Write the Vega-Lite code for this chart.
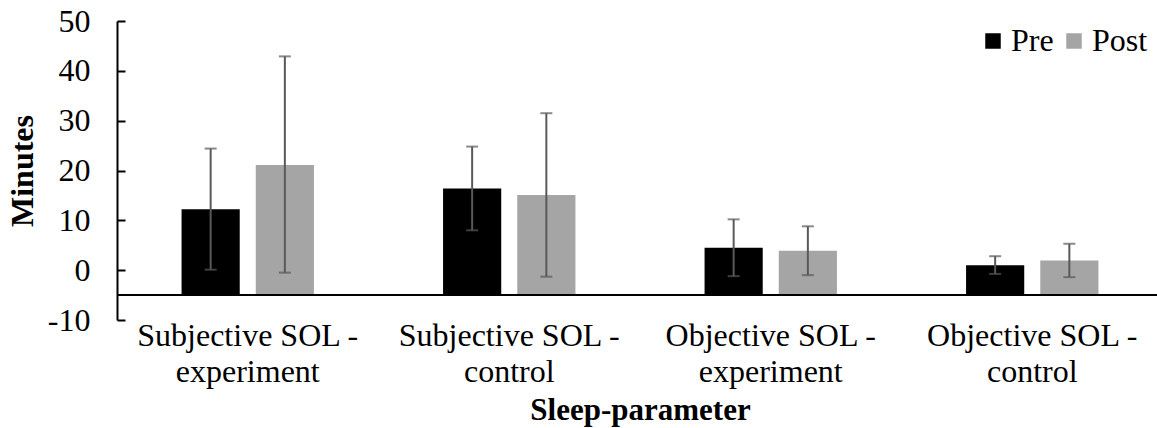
{
  "$schema": "https://vega.github.io/schema/vega-lite/v6.json",
  "autosize": "none",
  "width": 1040,
  "height": 299,
  "padding": {"left": 117, "top": 21, "right": 0, "bottom": 108},
  "background": "white",
  "config": {
    "view": {"stroke": null},
    "font": "Liberation Serif"
  },
  "data": {
    "values": [
      {"param": "Subjective SOL - experiment", "time": "Pre", "mean": 12.2, "lo": 0.1, "hi": 24.4},
      {"param": "Subjective SOL - experiment", "time": "Post", "mean": 21.1, "lo": -0.5, "hi": 42.9},
      {"param": "Subjective SOL - control", "time": "Pre", "mean": 16.4, "lo": 8.0, "hi": 24.8},
      {"param": "Subjective SOL - control", "time": "Post", "mean": 15.1, "lo": -1.3, "hi": 31.5},
      {"param": "Objective SOL - experiment", "time": "Pre", "mean": 4.5, "lo": -1.2, "hi": 10.2},
      {"param": "Objective SOL - experiment", "time": "Post", "mean": 3.9, "lo": -1.0, "hi": 8.8},
      {"param": "Objective SOL - control", "time": "Pre", "mean": 1.0, "lo": -0.75, "hi": 2.8},
      {"param": "Objective SOL - control", "time": "Post", "mean": 1.95, "lo": -1.4, "hi": 5.3}
    ]
  },
  "encoding": {
    "x": {
      "field": "param",
      "type": "nominal",
      "sort": null,
      "scale": {"paddingInner": 0, "paddingOuter": 0, "range": [0, 1046]},
      "axis": {
        "title": "Sleep-parameter",
        "titleFont": "Liberation Serif",
        "titleFontSize": 31,
        "titleFontWeight": "bold",
        "titleColor": "black",
        "titlePadding": 8,
        "labelAngle": 0,
        "labelFont": "Liberation Serif",
        "labelFontSize": 32,
        "labelColor": "black",
        "labelLineHeight": 36,
        "labelPadding": 0,
        "labelLimit": 0,
        "labelExpr": "[slice(datum.label, 0, indexof(datum.label, ' - ') + 2), slice(datum.label, indexof(datum.label, ' - ') + 3)]",
        "domain": false,
        "ticks": false,
        "grid": false
      }
    },
    "xOffset": {
      "field": "time",
      "type": "nominal",
      "sort": ["Pre", "Post"],
      "scale": {"paddingInner": 0.216, "paddingOuter": 0.87}
    }
  },
  "layer": [
    {
      "mark": {"type": "bar"},
      "encoding": {
        "y": {
          "field": "mean",
          "type": "quantitative",
          "scale": {"domain": [-10, 50], "nice": false, "zero": false},
          "axis": {
            "title": "Minutes",
            "titleFont": "Liberation Serif",
            "titleFontSize": 32,
            "titleFontWeight": "bold",
            "titleColor": "black",
            "titlePadding": 8,
            "values": [-10, 0, 10, 20, 30, 40, 50],
            "labelExpr": "datum.value + ''",
            "labelFont": "Liberation Serif",
            "labelFontSize": 32,
            "labelColor": "black",
            "labelPadding": 35,
            "tickSize": -8,
            "tickColor": "black",
            "tickWidth": 2,
            "domainColor": "black",
            "domainWidth": 2,
            "grid": false
          }
        },
        "y2": {"datum": -5},
        "color": {
          "field": "time",
          "type": "nominal",
          "sort": ["Pre", "Post"],
          "scale": {"domain": ["Pre", "Post"], "range": ["#000000", "#A5A5A5"]},
          "legend": {
            "title": null,
            "orient": "none",
            "direction": "horizontal",
            "legendX": 860,
            "legendY": 4,
            "symbolType": "square",
            "symbolSize": 240,
            "symbolStrokeWidth": 0,
            "labelFont": "Liberation Serif",
            "labelFontSize": 32,
            "labelColor": "black",
            "labelOffset": 2,
            "columnPadding": 4
          }
        }
      }
    },
    {
      "mark": {"type": "rule", "color": "black", "strokeWidth": 2},
      "encoding": {"y": {"datum": -5}, "x": null, "xOffset": null}
    },
    {
      "mark": {"type": "rule", "color": "#595959", "strokeWidth": 2},
      "encoding": {
        "y": {"field": "lo", "type": "quantitative"},
        "y2": {"field": "hi"}
      }
    },
    {
      "mark": {"type": "tick", "color": "#595959", "thickness": 2, "size": 12, "orient": "horizontal"},
      "encoding": {"y": {"field": "lo", "type": "quantitative"}}
    },
    {
      "mark": {"type": "tick", "color": "#595959", "thickness": 2, "size": 12, "orient": "horizontal"},
      "encoding": {"y": {"field": "hi", "type": "quantitative"}}
    }
  ]
}
